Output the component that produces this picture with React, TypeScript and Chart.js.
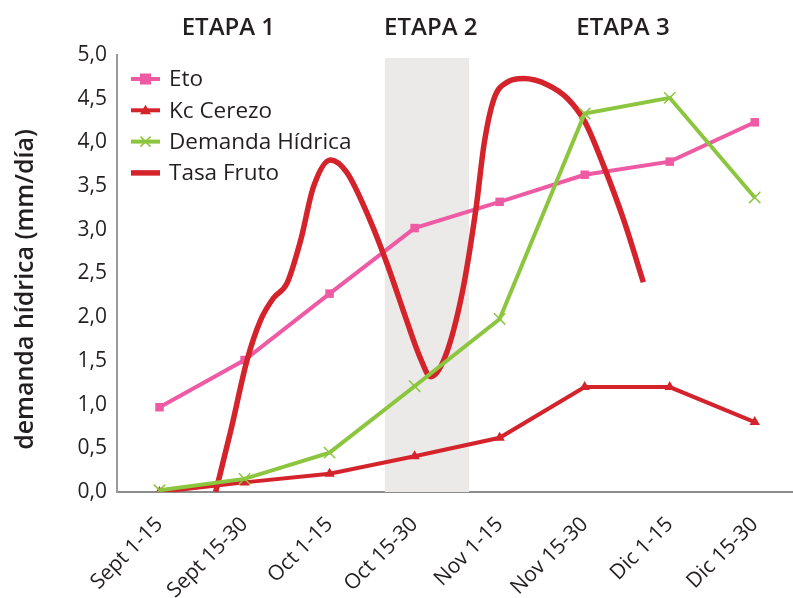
import React, { useEffect, useRef } from "react";
import { Chart, registerables } from "chart.js";

Chart.register(...registerables);

const categories = ["Sept 1-15", "Sept 15-30", "Oct 1-15", "Oct 15-30", "Nov 1-15", "Nov 15-30", "Dic 1-15", "Dic 15-30"];
const etoValues = [0.97, 1.51, 2.27, 3.02, 3.32, 3.63, 3.78, 4.23];
const kcValues = [0, 0.11, 0.21, 0.41, 0.62, 1.2, 1.2, 0.8];
const demandaValues = [0.02, 0.15, 0.45, 1.21, 1.98, 4.33, 4.51, 3.37];
const tasaX = [0.66, 0.84, 1.03, 1.19, 1.34, 1.5, 1.66, 1.81, 2.01, 2.2, 2.48, 2.68, 2.9, 3.06, 3.19, 3.36, 3.56, 3.72, 3.82, 3.93, 4.09, 4.28, 4.56, 4.8, 5.0, 5.22, 5.46, 5.69];
const tasaY = [0, 0.71, 1.51, 1.97, 2.22, 2.39, 2.88, 3.49, 3.8, 3.66, 3.1, 2.6, 1.98, 1.55, 1.32, 1.55, 2.28, 3.23, 4.0, 4.49, 4.69, 4.73, 4.66, 4.5, 4.24, 3.74, 3.11, 2.4];
const stageLabels = ["ETAPA 1", "ETAPA 2", "ETAPA 3"];
const stageCenters = [0.81, 3.19, 5.45];
const bandRange = [2.65, 3.64];
const seriesNames = ["Eto", "Kc Cerezo", "Demanda Hídrica", "Tasa Fruto"];
const yTitle = "demanda hídrica (mm/día)";

const PINK = "#EE5AA4";
const RED = "#D4232B";
const GREEN = "#8CC63F";
const TEXT = "#231F20";
const FONT = "'Open Sans', Lato, sans-serif";

export default function App() {
  const ref = useRef<HTMLCanvasElement | null>(null);

  useEffect(() => {
    if (!ref.current) return;
    const toXY = (vals: number[]) => vals.map((v, i) => ({ x: i, y: v }));

    const overlay = {
      id: "overlay",
      beforeDatasetsDraw(chart: any) {
        const { ctx, chartArea, scales } = chart;
        const x0 = scales.x.getPixelForValue(bandRange[0]);
        const x1 = scales.x.getPixelForValue(bandRange[1]);
        ctx.save();
        ctx.fillStyle = "#EBEAE8";
        ctx.fillRect(x0, chartArea.top + 3, x1 - x0, chartArea.bottom - chartArea.top - 3);
        ctx.restore();
      },
      afterDraw(chart: any) {
        const { ctx, chartArea, scales } = chart;
        ctx.save();
        ctx.fillStyle = TEXT;
        ctx.save();
        ctx.translate(25, (chartArea.top + chartArea.bottom) / 2 + 16);
        ctx.rotate(-Math.PI / 2);
        ctx.font = `600 25px ${FONT}`;
        ctx.textAlign = "center";
        ctx.textBaseline = "alphabetic";
        ctx.fillText(yTitle, 0, 0);
        ctx.restore();
        ctx.font = `600 24px ${FONT}`;
        ctx.textAlign = "center";
        ctx.textBaseline = "middle";
        stageLabels.forEach((s, i) => {
          ctx.fillText(s, scales.x.getPixelForValue(stageCenters[i]), chartArea.top - 27);
        });
        const lx = chartArea.left + 14;
        const colors = [PINK, RED, GREEN, RED];
        seriesNames.forEach((name, i) => {
          const y = chartArea.top + 24 + i * 31.3;
          ctx.strokeStyle = colors[i];
          ctx.lineWidth = i === 3 ? 5.5 : 4;
          ctx.beginPath();
          ctx.moveTo(lx, y);
          ctx.lineTo(lx + 29, y);
          ctx.stroke();
          const cx = lx + 14.5;
          if (i === 0) {
            ctx.fillStyle = PINK;
            ctx.fillRect(cx - 5.5, y - 5.5, 11, 11);
          } else if (i === 1) {
            ctx.fillStyle = RED;
            ctx.beginPath();
            ctx.moveTo(cx, y - 5.5);
            ctx.lineTo(cx + 5.5, y + 4);
            ctx.lineTo(cx - 5.5, y + 4);
            ctx.closePath();
            ctx.fill();
          } else if (i === 2) {
            ctx.strokeStyle = GREEN;
            ctx.lineWidth = 1.5;
            ctx.beginPath();
            ctx.moveTo(cx - 5, y - 5);
            ctx.lineTo(cx + 5, y + 5);
            ctx.moveTo(cx + 5, y - 5);
            ctx.lineTo(cx - 5, y + 5);
            ctx.stroke();
          }
          ctx.fillStyle = TEXT;
          ctx.font = `22.5px ${FONT}`;
          ctx.textAlign = "left";
          ctx.textBaseline = "middle";
          ctx.fillText(name, lx + 38, y + 1);
        });
        ctx.restore();
      },
    };

    const chart = new Chart(ref.current, {
      type: "line",
      data: {
        datasets: [
          {
            label: seriesNames[0],
            data: toXY(etoValues),
            borderColor: PINK,
            backgroundColor: PINK,
            borderWidth: 4,
            pointStyle: "rect",
            pointRadius: 6,
            pointBorderWidth: 0,
            tension: 0,
            order: 2,
          },
          {
            label: seriesNames[1],
            data: toXY(kcValues),
            borderColor: RED,
            backgroundColor: RED,
            borderWidth: 4,
            pointStyle: "triangle",
            pointRadius: 6,
            pointBorderWidth: 0,
            tension: 0,
            order: 3,
          },
          {
            label: seriesNames[2],
            data: toXY(demandaValues),
            borderColor: GREEN,
            backgroundColor: GREEN,
            borderWidth: 4,
            pointStyle: "crossRot",
            pointRadius: 8,
            pointBorderWidth: 1.5,
            tension: 0,
            order: 0,
          },
          {
            label: seriesNames[3],
            data: tasaX.map((x, i) => ({ x, y: tasaY[i] })),
            borderColor: RED,
            backgroundColor: RED,
            borderWidth: 5.5,
            pointRadius: 0,
            cubicInterpolationMode: "monotone",
            borderCapStyle: "butt",
            order: 1,
          },
        ],
      },
      options: {
        animation: false,
        responsive: true,
        maintainAspectRatio: false,
        layout: { autoPadding: false, padding: { top: 47, right: 0, left: 0, bottom: 0 } },
        plugins: { legend: { display: false }, tooltip: { enabled: false } },
        scales: {
          x: {
            type: "linear",
            min: -0.5,
            max: 7.45,
            grid: { display: false },
            border: { display: true, color: "#8C8C8C", width: 2 },
            afterBuildTicks: (s: any) => {
              s.ticks = categories.map((_, i) => ({ value: i }));
            },
            afterFit: (s: any) => {
              s.height = 106;
              s.paddingRight = 0;
              s.paddingLeft = 0;
            },
            ticks: {
              autoSkip: false,
              maxRotation: 45,
              minRotation: 45,
              padding: 12,
              color: TEXT,
              font: { family: FONT, size: 21 },
              callback: (v: any) => categories[v] ?? "",
            },
          },
          y: {
            min: 0,
            max: 5,
            grid: { display: false },
            border: { display: true, color: "#9A9A9A", width: 2 },
            afterFit: (s: any) => {
              s.width = 109;
            },
            ticks: {
              stepSize: 0.5,
              padding: 2,
              color: TEXT,
              font: { family: FONT, size: 21 },
              callback: (v: any) => Number(v).toFixed(1).replace(".", ","),
            },
          },
        },
      },
      plugins: [overlay],
    });
    return () => chart.destroy();
  }, []);

  return (
    <div style={{ position: "fixed", left: 8, top: 8, width: 785, height: 590 }}>
      <canvas ref={ref} />
    </div>
  );
}
